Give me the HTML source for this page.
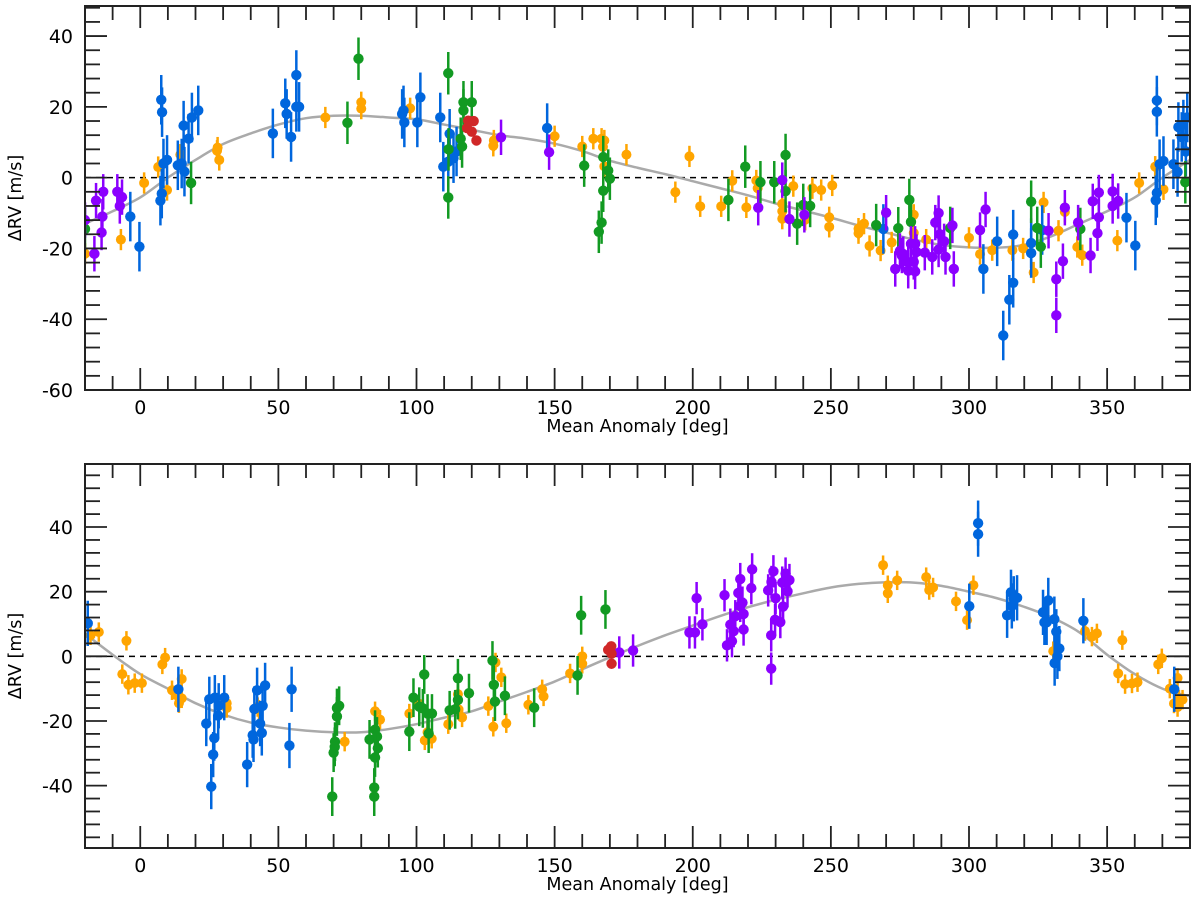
<!DOCTYPE html>
<html><head><meta charset="utf-8"><style>
html,body{margin:0;padding:0;background:#fff;}
svg{display:block;font-family:"DejaVu Sans","Liberation Sans",sans-serif;}
</style></head><body>
<svg id="chart" width="1200" height="903" viewBox="0 0 1200 903"></svg>
<script>
// ---- data (phase deg, dRV m/s) ----
const topBlue=[[7.6,22],[7.9,18.5],[7.3,-6.5],[7.8,-4.5],[8.4,4],[9.7,5],[-3.6,-11],[-0.3,-19.5],[15.7,14.7],[17.5,11],[18.7,17],[21,19],[13.6,3.5],[15,4],[16,1.7],[48,12.5],[52.5,21],[53,18],[54.6,11.5],[56.5,29],[56.5,20],[57.5,20],[94.8,18],[95.3,19],[95.6,15.6],[100.3,15.6],[101.4,22.7],[108.6,17],[112,12.4],[109.7,3.1],[111.5,4.5],[113.4,5.5],[114.5,7.4],[147.3,14],[269,-14.5],[310.2,-18],[305.2,-25.8],[316,-16.1],[316,-29.7],[314.6,-34.5],[312.4,-44.6],[322.5,-18.5],[322.5,-21.3],[326.5,-14.8],[357,-11.3],[360.2,-19.2],[368,21.8],[368,18.6],[367.6,-6.4],[368,-4.3],[369,3.8],[370.4,4.7],[375.8,14.3],[377,11.5],[379,17],[377.6,15],[374,3.8],[375.5,1.6],[378.5,7.4]];
const topOrange=[[1.4,-1.5],[-7,-17.5],[-20,-21.5],[6.5,3],[9.7,-3.5],[27.8,7.6],[28.6,5],[14.5,6.5],[28,8.5],[67,17],[80,21.3],[80,19.5],[97.7,19.6],[112,7.8],[127.8,9],[128,10.5],[150,11.7],[160,8.8],[164,11],[167,11],[167.5,8.7],[168,3.2],[168,10.5],[176,6.5],[193.7,-4.1],[198.8,6],[202.7,-8.1],[210.3,-8.1],[219.4,-8.4],[214.3,-0.9],[223,-0.8],[223.5,-3],[232.4,-7.4],[232.4,-9.5],[232.4,-11.6],[236.4,-2.4],[240.7,-11.9],[243.3,-3],[246.5,-3.5],[250.5,-2.2],[249.4,-11.2],[249.4,-13.9],[260,-14.4],[260,-15.7],[262,-13],[264,-19.3],[268,-20.6],[272,-18.3],[280,-10.5],[280,-15.6],[284.5,-17.5],[300,-17],[304,-21.6],[308.4,-20.5],[315.7,-20.5],[319.6,-20],[323.4,-26.8],[327,-7],[332.4,-15],[334.7,-9.7],[339.2,-19.6],[341,-21.9],[353.7,-17.8],[361.6,-1.5],[367.4,3.1],[370.4,-3.3]];
const topGreen=[[18.4,-1.5],[-20,-14.5],[79,33.6],[75,15.5],[111.5,29.5],[111.5,-5.6],[117,21.3],[117,19],[120,21.3],[116.5,8.8],[116,11],[111.6,8],[160.7,3.4],[167.6,5.8],[167.6,-3.7],[167,-12.7],[166,-15.3],[169.4,2],[170,-0.3],[212.9,-6.3],[219,3.1],[224.5,-1.3],[229.5,-1.3],[233.6,6.4],[233.6,-3.8],[237.8,-13],[240,-7.7],[242.5,-8],[266.4,-13.4],[274.4,-14.3],[279,-12.5],[278.4,-6.3],[293.2,-14.2],[322.5,-6.8],[324.7,-14.2],[326,-19.5],[340.3,-14.5],[378.3,-1.3]];
const topPurple=[[-16,-6.5],[-13.4,-4],[-13.7,-11],[-14,-15.5],[-16.6,-21.5],[-8.3,-4],[-7.4,-8],[-6.6,-5.5],[-20,-12],[130.6,11.4],[148,7.2],[232.4,-0.7],[223.7,-8.5],[235,-11.7],[240.4,-10.5],[270,-9.9],[273.3,-25.8],[275,-20.7],[275.7,-22],[280,-23.8],[280.5,-26.5],[281,-21],[280.5,-18.7],[276.2,-21.6],[278,-23.9],[278,-26.3],[279,-18.7],[284,-21.2],[286.7,-22.4],[287.8,-12.7],[289,-10],[289.5,-16],[289,-20.3],[291,-18],[291.5,-22.4],[294,-13.5],[294.5,-25.8],[304,-14.8],[306,-9],[331.6,-28.7],[331.6,-38.9],[334,-23.6],[334.7,-8.5],[339.5,-12.7],[344,-22],[344.8,-6.7],[347,-4.2],[347,-11.2],[346.5,-15.7],[352,-3.9],[352,-8],[354,-6.6],[328.8,-15]];
const topRed=[[118.7,16.1],[120.7,16],[120,13],[121.7,10.5],[118.3,14]];
const botBlue=[[-19,10.2],[13.8,-10.2],[23.9,-20.8],[25.7,-40.3],[26.4,-30.4],[26.8,-25.3],[25,-13.3],[27,-12.8],[28.4,-15.3],[28.2,-18.3],[30.4,-12.8],[38.7,-33.5],[41,-25.7],[40.7,-24.4],[41.3,-16.3],[42.3,-10.5],[43.4,-20.8],[44,-23.7],[44.3,-15.3],[45.2,-9],[54.8,-10.2],[54,-27.6],[303.3,41.2],[303.3,37.8],[300.1,15.5],[313.8,12.7],[315.2,19.8],[316.2,17.8],[317.4,18.1],[315.5,15.6],[326.8,13.6],[327.3,10.5],[328.7,17.3],[328.1,10.5],[330.9,11.5],[331.6,7.6],[332.7,2.4],[331,-2.1],[332,0],[341.4,11],[374.3,-10.2]];
const botOrange=[[-18,6.5],[-15,7.5],[-5,4.8],[-6.5,-5.5],[-4.3,-8.8],[-2,-8.3],[0.6,-8.3],[8,-2.5],[9,-0.4],[11.5,-10.5],[13,-12],[14,-14.5],[15,-13],[15,-7],[31.3,-14.5],[31.3,-16],[42.5,-15.7],[43,-16.5],[74,-26.4],[85,-17],[86.8,-19.6],[97.4,-17.7],[103,-26],[105.5,-25.5],[104,-23.5],[101,-14.7],[111.5,-21],[115.2,-16.4],[116.5,-18.9],[115,-11.7],[126,-15.4],[127.8,-21.8],[128.6,-1.9],[130.7,-6.5],[132.5,-20.7],[140.5,-15],[145.5,-10.2],[146,-12.4],[155.6,-5.3],[160,0],[160,-2.3],[268.9,28.2],[270.6,22],[270.6,19.5],[274,23.5],[284.5,24.5],[285.6,20.5],[287,21.3],[295.3,17],[299.3,11.2],[301.6,22],[330.5,1.6],[342,7.8],[344.5,6.1],[346.3,7.1],[355.5,5],[354,-5.3],[356.5,-8.6],[359,-8.4],[361,-8],[368.5,-2.5],[369.8,-0.6],[372.7,-10],[375.5,-6.7],[376,-13.4],[375.5,-15.7],[374.2,-14.6],[377.3,-13.4]];
const botGreen=[[69.5,-43.4],[70,-29.8],[70.5,-26.4],[71.2,-18.6],[71.2,-16],[72,-15.3],[70.4,-28],[83,-25.7],[84.7,-40.6],[84.7,-43.4],[85.7,-24.8],[86,-28.4],[85,-31.3],[85,-22.7],[97.4,-23.3],[98.9,-12.8],[102.8,-5.6],[101,-15.6],[102.3,-16.1],[104.4,-23.9],[105.6,-17.7],[104,-17.7],[112,-16.7],[114,-16.4],[115,-13.5],[115,-6.8],[119,-11.4],[127.5,-1.3],[128,-8.8],[128.4,-14],[132,-12.2],[142.6,-15.9],[158.3,-5.9],[159.6,12.7],[168.4,14.5]];
const botPurple=[[173.4,1.2],[178.4,1.8],[198.8,7.4],[200.8,7.4],[201.4,18],[203.5,9.9],[211.5,18.9],[212.4,3.4],[213.6,9.8],[214.2,4.7],[214.8,7.8],[215.4,12.4],[216.5,19.6],[217.2,23.9],[217.2,15.6],[218.4,8.3],[218.4,13.1],[218,16.6],[221.2,21.1],[221.5,26.9],[227.3,20.4],[228.4,6.5],[228.4,-3.8],[229.2,26.3],[229.8,11.3],[231.7,10.6],[232.7,15.4],[232.4,22.8],[233.6,25.6],[234.3,20.1],[235,23.6],[228.5,23],[230,18]];
const botRed=[[169.4,2],[170.5,3.1],[170.6,0.8],[170.6,-2.3]];
// model curves sampled every 10 deg from -20 to 380
const curvePhase=[-20,-10,0,10,20,30,40,50,60,70,80,90,100,110,120,130,140,150,160,170,180,190,200,210,220,230,240,250,260,270,280,290,300,310,320,330,340,350,360,370,380];
const topModel=[-13,-9.5,-5.6,0,5,9.5,12.5,15,16.8,17.5,17.5,17,16.5,15,13.5,12,11,9.6,7.5,4.8,2.8,1,-1,-3,-5,-7.3,-9.3,-11.3,-13.5,-15.5,-17.5,-19,-19.7,-19.8,-19,-16.5,-13,-9.5,-5.6,0,5];
const botModel=[7,0.5,-5.5,-10,-14.5,-18,-20.5,-22,-23,-23.5,-23.5,-22.5,-21,-19,-17,-14,-11,-7.8,-4,-0.3,3.2,6.5,9.5,12.5,15.2,17.5,19.5,21.3,22.4,22.9,22.8,21.8,20,18,15.3,12,7.4,0.5,-5.5,-10,-12.4];
const xTicks=[0,50,100,150,200,250,300,350];
const topYTicks=[40,20,0,-20,-40,-60];
const botYTicks=[40,20,0,-20,-40];

const NS="http://www.w3.org/2000/svg";
const svg=document.getElementById('chart');
function mk(tag,attrs,parent){const e=document.createElementNS(NS,tag);for(const k in attrs)e.setAttribute(k,attrs[k]);(parent||svg).appendChild(e);return e;}

function panel(name,top,bottom,ymin,ymax,yTicks,model,series){
  const L=85,R=1190,xmin=-20,xmax=380;
  const X=v=>L+(v-xmin)/(xmax-xmin)*(R-L);
  const Y=v=>bottom-(v-ymin)/(ymax-ymin)*(bottom-top);
  const g=mk('g',{});
  
  
  const z=mk('line',{x1:L,x2:R,y1:Y(0),y2:Y(0),stroke:'#000','stroke-width':1.5,'stroke-dasharray':'6,5'},g);
  
  
  const pts=curvePhase.map((p,i)=>[X(p),Y(model[i])]);
  let d='M'+pts[0][0]+','+pts[0][1];
  for(let i=0;i<pts.length-1;i++){const p0=pts[Math.max(0,i-1)],p1=pts[i],p2=pts[i+1],p3=pts[Math.min(pts.length-1,i+2)];
    d+=' C'+(p1[0]+(p2[0]-p0[0])/6)+','+(p1[1]+(p2[1]-p0[1])/6)+' '+(p2[0]-(p3[0]-p1[0])/6)+','+(p2[1]-(p3[1]-p1[1])/6)+' '+p2[0]+','+p2[1];}
  const c=mk('path',{d:d,fill:'none',stroke:'#aaa','stroke-width':2.5},g);
  
  
  series.forEach(s=>{
    const sg=mk('g',{},g);
    
    
    s.data.forEach(p=>{
      const x=X(p[0]),y=Y(p[1]);
      if(x<L-2||x>R+2)return;
      const eb=mk('line',{x1:x,x2:x,y1:Math.max(top,Y(p[1]+s.err)),y2:Math.min(bottom,Y(p[1]-s.err)),stroke:s.color,'stroke-width':2.5},sg);
      
      
      const pt=mk('circle',{cx:x,cy:y,r:s.r,fill:s.color},sg);
      
      
    });
  });
  mk('rect',{x:0,y:top-30,width:L,height:bottom-top+60,fill:'#fff'},g);
  mk('rect',{x:R,y:top-30,width:10,height:bottom-top+60,fill:'#fff'},g);
  const f=mk('rect',{x:L,y:top,width:R-L,height:bottom-top,fill:'none',stroke:'#222','stroke-width':2},g);
  
  
  for(let v=-20;v<=380;v+=10){const x=X(v);const maj=(v%50===0);const len=maj?22:14;
    mk('line',{x1:x,x2:x,y1:bottom,y2:bottom-len,stroke:'#222','stroke-width':1.8},g);
    mk('line',{x1:x,x2:x,y1:top,y2:top+len,stroke:'#222','stroke-width':1.8},g);}
  xTicks.forEach(v=>{const t=mk('text',{x:X(v),y:bottom+24,'text-anchor':'middle','font-size':19,fill:'#000'},g);t.textContent=v;
    
    });
  for(let v=Math.ceil(ymin/4)*4;v<=ymax;v+=4){const y=Y(v);const maj=(v%20===0);const len=maj?22:15;
    mk('line',{x1:L,x2:L+len,y1:y,y2:y,stroke:'#222','stroke-width':1.8},g);
    mk('line',{x1:R,x2:R-len,y1:y,y2:y,stroke:'#222','stroke-width':1.8},g);}
  yTicks.forEach(v=>{const t=mk('text',{x:73,y:Y(v)+7,'text-anchor':'end','font-size':19,fill:'#000'},g);t.textContent=v;
    
    });
  const xt=mk('text',{x:(L+R)/2,y:bottom+42,'text-anchor':'middle','font-size':17.5,fill:'#000'},g);xt.textContent='Mean Anomaly [deg]';
  
  
  const cy=(top+bottom)/2;
  const yt=mk('text',{x:21,y:cy,'text-anchor':'middle','font-size':17.5,fill:'#000',transform:'rotate(-90 21 '+cy+')'},g);yt.textContent='ΔRV [m/s]';
  
  
}
const C={blue:'#0066dd',orange:'#ffa500',green:'#129a22',purple:'#8b00ff',red:'#d02828'};
panel('top-panel',6,390,-60,48.5,topYTicks,topModel,[
 {name:'orange-series',data:topOrange,color:C.orange,err:3,r:5},
 {name:'blue-series',data:topBlue,color:C.blue,err:7,r:5.2},
 {name:'green-series',data:topGreen,color:C.green,err:6,r:5.2},
 {name:'purple-series',data:topPurple,color:C.purple,err:5,r:5.2},
 {name:'red-series',data:topRed,color:C.red,err:1,r:5.2}]);
panel('bottom-panel',464,848,-59.3,59.5,botYTicks,botModel,[
 {name:'orange-series',data:botOrange,color:C.orange,err:3,r:5},
 {name:'blue-series',data:botBlue,color:C.blue,err:7,r:5.2},
 {name:'green-series',data:botGreen,color:C.green,err:6,r:5.2},
 {name:'purple-series',data:botPurple,color:C.purple,err:5,r:5.2},
 {name:'red-series',data:botRed,color:C.red,err:1,r:5.2}]);
</script>
</body></html>
